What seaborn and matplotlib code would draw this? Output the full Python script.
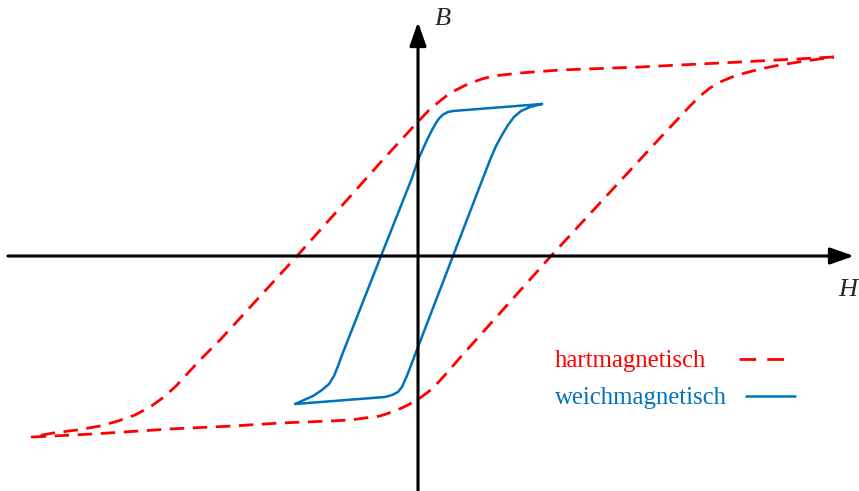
import matplotlib
matplotlib.use("Agg")
import matplotlib.pyplot as plt
from matplotlib.lines import Line2D
import pandas as pd
import seaborn as sns

# Hysteresis loops, values (arbitrary units)
# hartmagnetisch: upper branch (right -> left), then lower branch (left -> right)
hart_H = [416, 322, 222, 142, 102, 75, 64, 52, 42, 32, 22, 12, -5, -38, -121,
          -198, -218, -230, -242, -254, -268, -283, -300, -318, -341, -365, -386,
          -325, -248, -185, -138, -88, -68, -53, -38, -23, -10, 2, 14, 27, 40,
          133, 242, 272, 282, 292, 302, 314, 327, 342, 362, 387, 416]
hart_B = [199, 194, 189, 186, 183, 180, 177, 173, 168, 163, 155, 147, 129, 93, 0,
          -84, -104, -117, -130, -141, -151, -159, -165, -170, -174, -177, -181,
          -178, -173, -170, -167, -165, -164, -162, -160, -155, -149, -142, -133, -119, -104,
          0, 118, 150, 160, 168, 174, 179, 183, 187, 191, 195, 199]

# weichmagnetisch: upper branch (right -> left), then lower branch (left -> right)
weich_H = [124, 35, 30, 25, 21, 18, 14, 9, 0, -6, -37, -76, -80, -84, -89, -96,
           -105, -114, -123,
           -33, -26, -20, -16, -12, -8, -5, 35, 65, 72, 78, 84, 90, 96, 103, 112, 124]
weich_B = [152, 145, 144, 141.5, 137.5, 133, 126, 116, 96, 78, 0, -99, -110, -120,
           -128, -134, -140, -144, -148,
           -141, -139, -136, -131, -122, -112, -104, 0, 78, 96, 110, 121, 131, 139,
           145, 149, 152]

labels = ["hartmagnetisch", "weichmagnetisch"]
red = "#ff0000"
blue = "#0072bd"

sns.set_style("white")
plt.rcParams["font.family"] = ["Liberation Serif", "DejaVu Serif"]

fig = plt.figure(figsize=(8.59, 4.91), dpi=100)
ax = fig.add_axes([0, 0, 1, 1])
ax.set_xlim(-418, 441)
ax.set_ylim(-235, 256)
ax.axis("off")

hart = pd.DataFrame({"H": hart_H, "B": hart_B})
weich = pd.DataFrame({"H": weich_H, "B": weich_B})

sns.lineplot(data=hart, x="H", y="B", sort=False, estimator=None, ax=ax,
             color=red, lw=2.0, linestyle=(0, (5.2, 3.1)))
sns.lineplot(data=weich, x="H", y="B", sort=False, estimator=None, ax=ax,
             color=blue, lw=1.8)

# axes with arrows
arrow = dict(arrowstyle="-|>,head_length=0.8,head_width=0.28", lw=2.2, color="k",
             mutation_scale=18, shrinkA=0, shrinkB=0)
ax.annotate("", xy=(436, 0), xytext=(-410, 0), arrowprops=arrow)
ax.annotate("", xy=(0, 234), xytext=(0, -240), arrowprops=arrow)

ax.text(25, 237, "B", fontsize=19, fontstyle="italic", ha="center", va="center")
ax.text(430, -34, "H", fontsize=19, fontstyle="italic", ha="center", va="center")

# two one-entry legends, text left and line right of it
red_handle = Line2D([], [], color=red, lw=2.0, linestyle=(0, (6, 4)))
blue_handle = Line2D([], [], color=blue, lw=1.8)
leg1 = ax.legend([red_handle], [labels[0]], loc="center left",
                 bbox_to_anchor=(555 / 859, 1 - 361 / 491), frameon=False,
                 markerfirst=False, labelcolor="linecolor", fontsize=17.8,
                 handlelength=1.9, handletextpad=1.32, borderpad=0, borderaxespad=0)
ax.add_artist(leg1)
ax.legend([blue_handle], [labels[1]], loc="center left",
          bbox_to_anchor=(555 / 859, 1 - 398 / 491), frameon=False,
          markerfirst=False, labelcolor="linecolor", fontsize=17.8,
          handlelength=2.0, handletextpad=0.76, borderpad=0, borderaxespad=0)

fig.savefig("out.png", dpi=100)
